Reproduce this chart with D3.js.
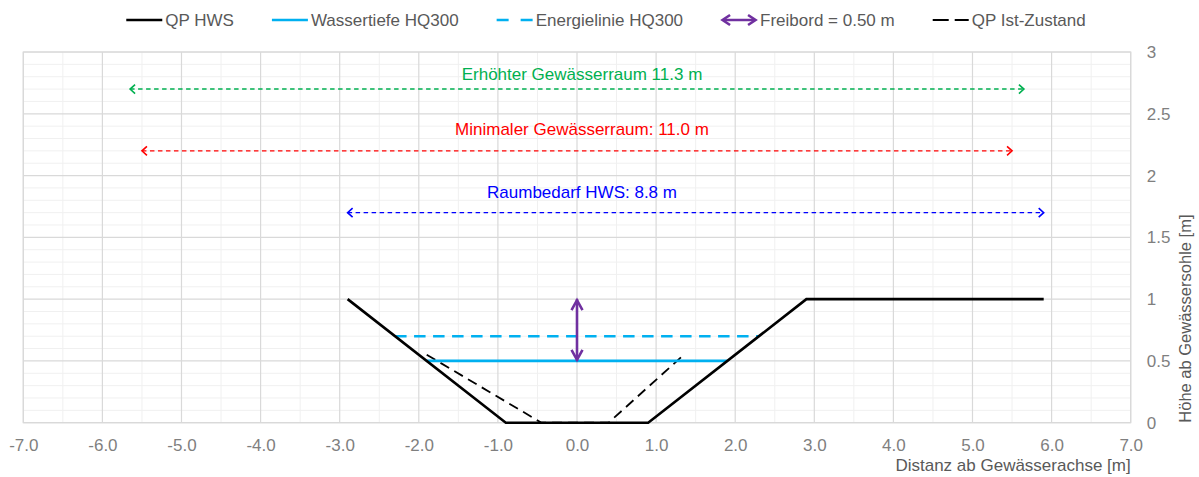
<!DOCTYPE html>
<html><head><meta charset="utf-8">
<script src="https://cdn.jsdelivr.net/npm/d3@7"></script>
<style>
html,body{margin:0;padding:0;background:#fff;}
svg{display:block;font-family:"Liberation Sans",Arial,sans-serif;}
</style></head>
<body><svg id="c" width="1199" height="477"></svg>
<script>
// ---- data ----
const xTicks = [-7,-6,-5,-4,-3,-2,-1,0,1,2,3,4,5,6,7];
const yTicks = [0,0.5,1,1.5,2,2.5,3];
const hwsX = [-2.9,-0.9,0.9,2.9,5.9];
const hwsY = [1,0,0,1,1];
const istX = [-1.9,-0.45,0.4,1.35];
const istY = [0.55,0,0,0.55];
const wasserX = [-1.9,1.9];
const wasserY = [0.5,0.5];
const energieX = [-2.3,2.3];
const energieY = [0.7,0.7];
const freibordX = [0,0];
const freibordY = [0.5,1.0];
const spanNames = ["Erhöhter Gewässerraum 11.3 m","Minimaler Gewässerraum: 11.0 m","Raumbedarf HWS: 8.8 m"];
const spanStart = [-5.65,-5.5,-2.9];
const spanEnd = [5.65,5.5,5.9];
const spanY = [2.7,2.2,1.7];
const spanLabelY = [2.77,2.33,1.82];
const legendNames = ["QP HWS","Wassertiefe HQ300","Energielinie HQ300","Freibord = 0.50 m","QP Ist-Zustand"];

// ---- layout ----
const svg = d3.select("#c");
const L=23.3, R=1130.7, T=52, B=422.7;
const x = d3.scaleLinear().domain([-7,7]).range([L,R]);
const y = d3.scaleLinear().domain([0,3]).range([B,T]);
const FS = 17;
const spanColors = ["#00B050","#FF0000","#0000FF"];
const cyan = "#00B0F0", purple = "#7030A0";

// grid
const g = svg.append("g");
const minorX = d3.range(-6.5,7,1);
const minorY = d3.range(0,3.0001,0.1).filter(v=>Math.abs(v*2-Math.round(v*2))>1e-6);
g.selectAll(".mx").data(minorX).join("line")
  .attr("x1",d=>x(d)).attr("x2",d=>x(d)).attr("y1",T).attr("y2",B)
  .attr("stroke","#f0f0f0").attr("stroke-width",1);
g.selectAll(".my").data(minorY).join("line")
  .attr("x1",L).attr("x2",R).attr("y1",d=>y(d)).attr("y2",d=>y(d))
  .attr("stroke","#f0f0f0").attr("stroke-width",1);
g.selectAll(".Mx").data(xTicks).join("line")
  .attr("x1",d=>x(d)).attr("x2",d=>x(d)).attr("y1",T).attr("y2",B)
  .attr("stroke","#d9d9d9").attr("stroke-width",1.2);
g.selectAll(".My").data(yTicks).join("line")
  .attr("x1",L).attr("x2",R).attr("y1",d=>y(d)).attr("y2",d=>y(d))
  .attr("stroke","#d9d9d9").attr("stroke-width",1.2);
g.append("rect").attr("x",L).attr("y",T).attr("width",R-L).attr("height",B-T)
  .attr("fill","none").attr("stroke","#d9d9d9").attr("stroke-width",1.2);

// axes
const fx = d => d3.format(".1f")(d).replace("\u2212","-");
const xa = svg.append("g").attr("transform",`translate(0,${B})`)
  .call(d3.axisBottom(x).tickValues(xTicks).tickFormat(fx).tickSize(0).tickPadding(16));
xa.select(".domain").remove();
xa.selectAll("text").attr("font-size",FS).attr("fill","#7f7f7f").attr("font-family","Liberation Sans, Arial, sans-serif");
const ya = svg.append("g").attr("transform",`translate(${R},0)`)
  .call(d3.axisRight(y).tickValues(yTicks).tickFormat(d3.format("~g")).tickSize(0).tickPadding(16));
ya.select(".domain").remove();
ya.selectAll("text").attr("font-size",FS).attr("fill","#7f7f7f").attr("font-family","Liberation Sans, Arial, sans-serif");

svg.append("text").attr("x",R).attr("y",471).attr("text-anchor","end")
  .attr("font-size",FS).attr("fill","#595959").text("Distanz ab Gewässerachse [m]");
svg.append("text").attr("transform",`translate(1191,${B}) rotate(-90)`).attr("text-anchor","start")
  .attr("font-size",16.5).attr("fill","#595959").text("Höhe ab Gewässersohle [m]");

// helpers
const line = d3.line().x(d=>x(d[0])).y(d=>y(d[1]));
function chevron(px,py,dir,len,half,color,w){
  const a=Math.cos(dir), b=Math.sin(dir);
  const bx=px-a*len, by=py-b*len;
  const p1=[bx-b*half, by+a*half], p2=[bx+b*half, by-a*half];
  return svg.append("path").attr("d",`M${p1[0]},${p1[1]}L${px},${py}L${p2[0]},${p2[1]}`)
    .attr("fill","none").attr("stroke",color).attr("stroke-width",w)
    .attr("stroke-linejoin","miter").attr("stroke-linecap","butt");
}

// span arrows
spanNames.forEach((name,i)=>{
  const c=spanColors[i];
  svg.append("path").attr("d",line([[spanStart[i],spanY[i]],[spanEnd[i],spanY[i]]]))
    .attr("stroke",c).attr("stroke-width",1.4).attr("stroke-dasharray","4.5,3.5").attr("fill","none");
  chevron(x(spanStart[i]),y(spanY[i]),Math.PI,5,4.5,c,1.6);
  chevron(x(spanEnd[i]),y(spanY[i]),0,5,4.5,c,1.6);
  svg.append("text").attr("x",x(0)+5).attr("y",y(spanLabelY[i])).attr("text-anchor","middle")
    .attr("font-size",FS).attr("fill",c).text(name);
});

// series
svg.append("path").attr("d",line(istX.map((v,i)=>[v,istY[i]])))
  .attr("fill","none").attr("stroke","#000").attr("stroke-width",1.8).attr("stroke-dasharray","10,6");
svg.append("path").attr("d",line(energieX.map((v,i)=>[v,energieY[i]])))
  .attr("fill","none").attr("stroke",cyan).attr("stroke-width",2.6).attr("stroke-dasharray","11.5,7.5");
svg.append("path").attr("d",line(wasserX.map((v,i)=>[v,wasserY[i]])))
  .attr("fill","none").attr("stroke",cyan).attr("stroke-width",2.6);
svg.append("path").attr("d",line(hwsX.map((v,i)=>[v,hwsY[i]])))
  .attr("fill","none").attr("stroke","#000").attr("stroke-width",2.6).attr("stroke-linejoin","miter");
// freibord
svg.append("path").attr("d",line(freibordX.map((v,i)=>[v,freibordY[i]])))
  .attr("fill","none").attr("stroke",purple).attr("stroke-width",2.6);
chevron(x(freibordX[1]),y(freibordY[1])+1,-Math.PI/2,10,5.5,purple,2.6);
chevron(x(freibordX[0]),y(freibordY[0])-1,Math.PI/2,10,5.5,purple,2.6);

// legend
const lg = svg.append("g");
const symW = 36, gapT = 3, gapItem = 38, ly = 20;
let cx = 0;
legendNames.forEach((n,i)=>{
  const it = lg.append("g");
  const t = it.append("text").attr("x",symW+gapT).attr("y",ly+6).attr("font-size",FS).attr("fill","#595959").text(n);
  const w = t.node().getComputedTextLength();
  it.attr("transform",`translate(${cx},0)`);
  const s = it.append("g");
  if(i===0) s.append("line").attr("x1",0).attr("x2",symW).attr("y1",ly).attr("y2",ly).attr("stroke","#000").attr("stroke-width",2.6);
  if(i===1) s.append("line").attr("x1",0).attr("x2",symW).attr("y1",ly).attr("y2",ly).attr("stroke",cyan).attr("stroke-width",2.6);
  if(i===2) s.append("line").attr("x1",0).attr("x2",symW).attr("y1",ly).attr("y2",ly).attr("stroke",cyan).attr("stroke-width",2.6).attr("stroke-dasharray","12,12");
  if(i===3){
    s.append("line").attr("x1",2).attr("x2",symW-2).attr("y1",ly).attr("y2",ly).attr("stroke",purple).attr("stroke-width",2.6);
    s.append("path").attr("d",`M9,${ly-5}L1.5,${ly}L9,${ly+5}M${symW-9},${ly-5}L${symW-1.5},${ly}L${symW-9},${ly+5}`)
      .attr("fill","none").attr("stroke",purple).attr("stroke-width",2.6);
  }
  if(i===4) s.append("line").attr("x1",0).attr("x2",symW).attr("y1",ly).attr("y2",ly).attr("stroke","#000").attr("stroke-width",2).attr("stroke-dasharray","16,6");
  cx += symW+gapT+w+gapItem;
});
const total = cx-gapItem;
lg.attr("transform",`translate(${606-total/2},0)`);
</script></body></html>
